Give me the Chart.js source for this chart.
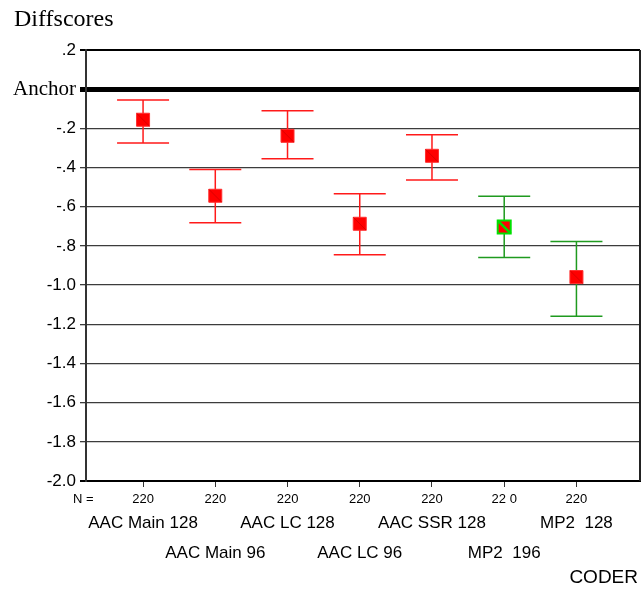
<!DOCTYPE html>
<html>
<head>
<meta charset="utf-8">
<script src="https://cdn.jsdelivr.net/npm/chart.js@4.4.1/dist/chart.umd.min.js"></script>
<style>
  html, body { margin: 0; padding: 0; background: #ffffff; }
  canvas { display: block; }
</style>
</head>
<body>
<canvas id="c" width="641" height="589"></canvas>
<script>
// ---- data ----
const categories = ['AAC Main 128', 'AAC Main 96', 'AAC LC 128', 'AAC LC 96', 'AAC SSR 128', 'MP2  196', 'MP2  128'];
const nLabels = ['220', '220', '220', '220', '220', '22 0', '220'];
const means = [-0.156, -0.544, -0.238, -0.687, -0.340, -0.704, -0.959];
const upperBounds = [-0.055, -0.410, -0.110, -0.534, -0.232, -0.546, -0.778];
const lowerBounds = [-0.275, -0.682, -0.355, -0.845, -0.464, -0.859, -1.159];
const yTickValues = [0.2, 0, -0.2, -0.4, -0.6, -0.8, -1.0, -1.2, -1.4, -1.6, -1.8, -2.0];
const yTickLabels = ['.2', 'Anchor', '-.2', '-.4', '-.6', '-.8', '-1.0', '-1.2', '-1.4', '-1.6', '-1.8', '-2.0'];
const yTitle = 'Diffscores';
const xTitle = 'CODER';
const nPrefix = 'N =';

// ---- styles ----
const CAP = 0.36;
const greenFrom = 5;
const whiskerColor = i => (i >= greenFrom ? '#1f9a1f' : '#ff1a1a');
const SANS = "'Liberation Sans', Arial, sans-serif";
const SERIF = "'Liberation Serif', 'Times New Roman', serif";

const whiskerSets = categories.map((c, i) => {
  const x = i + 1;
  return {
    label: c,
    showLine: true,
    spanGaps: false,
    data: [
      { x: x - CAP, y: upperBounds[i] }, { x: x + CAP, y: upperBounds[i] }, { x: x, y: null },
      { x: x, y: upperBounds[i] }, { x: x, y: lowerBounds[i] }, { x: x, y: null },
      { x: x - CAP, y: lowerBounds[i] }, { x: x + CAP, y: lowerBounds[i] }
    ],
    borderColor: whiskerColor(i),
    borderWidth: 1.5,
    pointRadius: 0,
    order: 2
  };
});

const markerSet = {
  label: 'mean',
  data: means.map((m, i) => ({ x: i + 1, y: m })),
  pointStyle: 'rect',
  pointRadius: 9.2,
  backgroundColor: '#ff0000',
  borderColor: means.map((m, i) => (i === greenFrom ? '#00e000' : '#ff3030')),
  borderWidth: means.map((m, i) => (i === greenFrom ? 2 : 1)),
  order: 1
};

const diagSet = {
  label: 'diag',
  data: means.map((m, i) => ({ x: i + 1, y: m })),
  pointStyle: 'line',
  rotation: 45,
  pointRadius: 9,
  borderColor: means.map((m, i) => (i === greenFrom ? '#00dd00' : '#d00000')),
  borderWidth: means.map((m, i) => (i === greenFrom ? 2.5 : 0.8)),
  order: 0
};

const textPlugin = {
  id: 'textPlugin',
  afterDraw(chart) {
    const ctx = chart.ctx;
    const xs = chart.scales.x;
    const area = chart.chartArea;
    ctx.save();
    // right border
    ctx.strokeStyle = '#222';
    ctx.lineWidth = 2;
    ctx.beginPath();
    ctx.moveTo(area.right, area.top);
    ctx.lineTo(area.right, area.bottom);
    ctx.stroke();

    ctx.fillStyle = '#000';
    // title
    ctx.font = '24px ' + SERIF;
    ctx.textAlign = 'left';
    ctx.textBaseline = 'alphabetic';
    ctx.fillText(yTitle, 14, 26);

    // N row
    ctx.font = '13px ' + SANS;
    ctx.textBaseline = 'middle';
    ctx.textAlign = 'left';
    ctx.fillText(nPrefix, 73, 499);
    ctx.textAlign = 'center';
    nLabels.forEach((t, i) => {
      ctx.fillText(t, xs.getPixelForValue(i + 1), 499);
    });

    // category labels (staggered)
    ctx.font = '17px ' + SANS;
    categories.forEach((t, i) => {
      const y = i % 2 === 0 ? 523 : 553;
      ctx.fillText(t, xs.getPixelForValue(i + 1), y);
    });

    // axis title
    ctx.font = '19px ' + SANS;
    ctx.textAlign = 'right';
    ctx.fillText(xTitle, 638, 578);
    ctx.restore();
  }
};

const isEdge = idx => idx === 0 || idx === yTickValues.length - 1;

new Chart(document.getElementById('c'), {
  type: 'scatter',
  data: { datasets: [diagSet, markerSet, ...whiskerSets] },
  options: {
    responsive: false,
    animation: false,
    events: [],
    layout: { autoPadding: false, padding: { top: 50, right: 1, left: 0, bottom: 0 } },
    plugins: { legend: { display: false }, tooltip: { enabled: false }, title: { display: false } },
    scales: {
      x: {
        type: 'linear',
        min: 0.21,
        max: 7.88,
        afterBuildTicks(scale) { scale.ticks = categories.map((c, i) => ({ value: i + 1 })); },
        afterFit(scale) { scale.height = 108; },
        ticks: { display: false },
        grid: { display: true, drawOnChartArea: false, drawTicks: true, tickLength: 6, color: '#333', lineWidth: 1 },
        border: { display: true, color: '#000', width: 2 }
      },
      y: {
        type: 'linear',
        min: -2.0,
        max: 0.2,
        afterBuildTicks(scale) { scale.ticks = yTickValues.map(v => ({ value: v })); },
        afterFit(scale) { scale.width = 86; },
        ticks: {
          padding: 4,
          color: '#000',
          callback: (v, idx) => yTickLabels[idx],
          font: ctx => (ctx.index === 1 ? { family: SERIF, size: 21 } : { family: SANS, size: 17 })
        },
        grid: {
          drawTicks: true,
          tickLength: 6,
          color: ctx => (ctx.index === 1 || isEdge(ctx.index) ? '#000' : '#3c3c3c'),
          lineWidth: ctx => (ctx.index === 1 ? 5 : isEdge(ctx.index) ? 2 : 1.3)
        },
        border: { display: true, color: '#333', width: 2 }
      }
    }
  },
  plugins: [textPlugin]
});
</script>
</body>
</html>
